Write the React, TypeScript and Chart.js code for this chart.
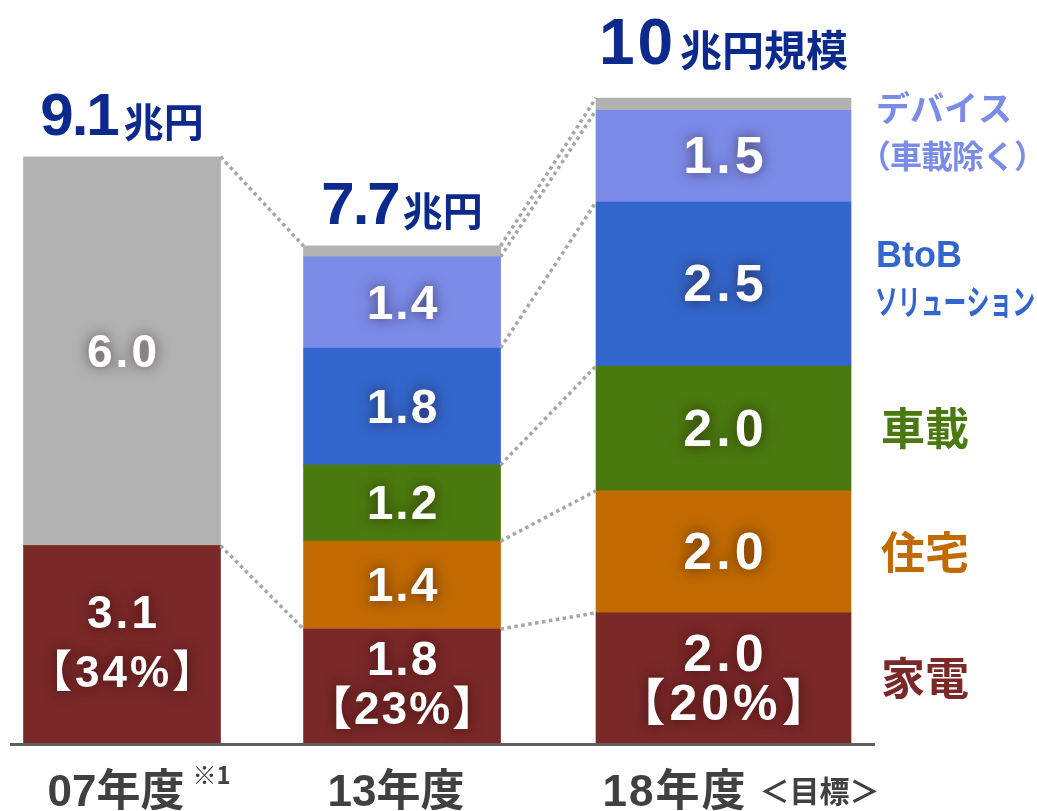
import React, { useEffect, useRef } from "react";
import { Chart, registerables } from "chart.js";

Chart.register(...registerables);

// ---- data ----
const categories = ["07年度", "13年度", "18年度"];
const categoryNotes = ["※1", "", "＜目標＞"];
const barX = [0, 1, 2.148];

const kaden = [3.07, 1.78, 2.03];
const jutaku = [0, 1.36, 1.89];
const shasai = [0, 1.18, 1.93];
const btob = [0, 1.81, 2.54];
const device = [0, 1.41, 1.42];
const other = [6.02, 0.17, 0.19];

const kadenLabels = ["3.1", "1.8", "2.0"];
const kadenShares = ["【34%】", "【23%】", "【20%】"];
const jutakuLabels = ["", "1.4", "2.0"];
const shasaiLabels = ["", "1.2", "2.0"];
const btobLabels = ["", "1.8", "2.5"];
const deviceLabels = ["", "1.4", "1.5"];
const otherLabels = ["6.0", "", ""];

const totalNumbers = ["9.1", "7.7", "10"];
const totalUnits = ["兆円", "兆円", "兆円規模"];

const seriesNames = [["家電"], ["住宅"], ["車載"], ["BtoB", "ソリューション"], ["デバイス", "（車載除く）"]];

// ---- style ----
const colors = ["#7B2828", "#C06A00", "#4A7A0F", "#3366CC", "#7B8BE8", "#B2B2B2"];
const NAVY = "#0B2A8C";
const AXIS_TEXT = "#404040";
const LATIN = '"Liberation Sans", "Noto Sans CJK JP", sans-serif';
const CJK = '"Noto Sans CJK JP", sans-serif';
const labelSizes = [46, 48, 52];
const labelSpacing = [3, 2, 4];

const series = [kaden, jutaku, shasai, btob, device, other];
const valueLabels = [kadenLabels, jutakuLabels, shasaiLabels, btobLabels, deviceLabels, otherLabels];

function getBar(chart: any, si: number, i: number) {
  const dsIndex = i < 2 ? si * 2 : si * 2 + 1;
  const idx = i < 2 ? i : 0;
  const el = chart.getDatasetMeta(dsIndex).data[idx];
  return el.getProps(["x", "y", "base", "width"], true);
}

const overlay = {
  id: "overlay",
  afterDatasetsDraw(chart: any) {
    const ctx: CanvasRenderingContext2D = chart.ctx;
    const area = chart.chartArea;
    const yScale = chart.scales.y;
    const y0 = yScale.getPixelForValue(0);

    // connectors
    ctx.save();
    ctx.strokeStyle = "#A6A6A6";
    ctx.lineWidth = 3.5;
    ctx.setLineDash([3.5, 3.5]);
    const seg = (x1: number, y1: number, x2: number, y2: number) => {
      ctx.beginPath();
      ctx.moveTo(x1, y1);
      ctx.lineTo(x2, y2);
      ctx.stroke();
    };
    const a0 = getBar(chart, 5, 0);
    const a1 = getBar(chart, 5, 1);
    seg(a0.x + a0.width / 2, a0.y, a1.x - a1.width / 2, a1.y);
    const k0 = getBar(chart, 0, 0);
    const k1 = getBar(chart, 0, 1);
    seg(k0.x + k0.width / 2, k0.y, k1.x - k1.width / 2, k1.y);
    for (let si = 0; si < series.length; si++) {
      const b1 = getBar(chart, si, 1);
      const b2 = getBar(chart, si, 2);
      seg(b1.x + b1.width / 2, b1.y, b2.x - b2.width / 2, b2.y);
    }
    ctx.restore();

    // baseline
    ctx.save();
    ctx.strokeStyle = "#5F5F5F";
    ctx.lineWidth = 3;
    ctx.beginPath();
    ctx.moveTo(area.left, y0 + 0.5);
    ctx.lineTo(area.right, y0 + 0.5);
    ctx.stroke();
    ctx.restore();

    // values inside bars
    ctx.save();
    ctx.fillStyle = "#FFFFFF";
    ctx.shadowColor = "rgba(30,0,0,0.6)";
    ctx.shadowBlur = 14;
    ctx.textAlign = "center";
    ctx.textBaseline = "middle";
    for (let si = 0; si < series.length; si++) {
      for (let i = 0; i < categories.length; i++) {
        const text = valueLabels[si][i];
        if (!text) continue;
        ctx.font = `bold ${labelSizes[i]}px ${LATIN}`;
        (ctx as any).letterSpacing = `${labelSpacing[i]}px`;
        const b = getBar(chart, si, i);
        const cy = (b.y + b.base) / 2;
        const cx = b.x + labelSpacing[i] / 2;
        if (si === 0) {
          const h = b.base - b.y;
          const g = h > 150 ? 58 : 48;
          const shift = h > 125 && h <= 150 ? 4 : 1;
          ctx.fillText(text, cx, cy - g / 2 + shift - 2);
          ctx.font = `bold ${labelSizes[i] - 2}px ${LATIN}`;
          ctx.fillText(kadenShares[i], cx, cy + g / 2 + shift);
        } else {
          ctx.fillText(text, cx, cy + 3);
        }
      }
    }
    ctx.restore();

    // totals above bars
    ctx.save();
    ctx.fillStyle = NAVY;
    ctx.textBaseline = "alphabetic";
    ctx.textAlign = "left";
    for (let i = 0; i < categories.length; i++) {
      const top = getBar(chart, 5, i);
      const big = i === 2;
      const numFont = `bold ${big ? 64 : 60}px ${LATIN}`;
      const numSpacing = big ? "3px" : "-2px";
      const unitFont = `bold ${big ? 42 : 40}px ${CJK}`;
      ctx.font = numFont;
      (ctx as any).letterSpacing = numSpacing;
      const wN = ctx.measureText(totalNumbers[i]).width;
      ctx.font = unitFont;
      (ctx as any).letterSpacing = "0px";
      const wU = ctx.measureText(totalUnits[i]).width;
      const gap = i === 0 ? 6 : 4;
      const start = top.x - (wN + gap + wU) / 2;
      const base = top.y - (big ? 34 : 22);
      ctx.font = numFont;
      (ctx as any).letterSpacing = numSpacing;
      ctx.fillText(totalNumbers[i], start, base);
      ctx.font = unitFont;
      (ctx as any).letterSpacing = "0px";
      ctx.fillText(totalUnits[i], start + wN + gap, base + 2);
    }
    ctx.restore();

    // series names at right
    ctx.save();
    ctx.textAlign = "left";
    ctx.textBaseline = "middle";
    const lx = area.right + 4;
    for (let si = 0; si < seriesNames.length; si++) {
      const b = getBar(chart, si, 2);
      const cy = (b.y + b.base) / 2;
      ctx.fillStyle = colors[si];
      const lines = seriesNames[si];
      if (lines.length === 1) {
        ctx.font = `bold 44px ${CJK}`;
        ctx.fillText(lines[0], lx + 2, cy);
      } else if (si === 3) {
        ctx.font = `bold 36px ${LATIN}`;
        ctx.fillText(lines[0], lx - 3, cy - 27);
        ctx.font = `bold 35px ${CJK}`;
        const w = ctx.measureText(lines[1]).width;
        const sx = 160 / w;
        ctx.save();
        ctx.translate(lx - 4, cy + 18);
        ctx.scale(sx, 1);
        ctx.fillText(lines[1], 0, 0);
        ctx.restore();
      } else {
        ctx.font = `bold 34px ${CJK}`;
        ctx.fillText(lines[0], lx - 3, cy - 48);
        ctx.font = `bold 32px ${CJK}`;
        (ctx as any).letterSpacing = "-1px";
        ctx.fillText(lines[1], lx - 20, cy);
        (ctx as any).letterSpacing = "0px";
      }
    }
    ctx.restore();

    // category labels below axis
    ctx.save();
    ctx.fillStyle = AXIS_TEXT;
    ctx.textBaseline = "alphabetic";
    ctx.textAlign = "left";
    const baseY = 806;
    for (let i = 0; i < categories.length; i++) {
      const b = getBar(chart, 0, i);
      ctx.font = `bold 44px ${LATIN}`;
      (ctx as any).letterSpacing = i === 2 ? "2px" : "0px";
      const wMain = ctx.measureText(categories[i]).width;
      if (i === 0) {
        const start = b.x - 6 - wMain / 2;
        ctx.fillText(categories[i], start, baseY);
        ctx.font = `bold 24px ${CJK}`;
        (ctx as any).letterSpacing = "0px";
        ctx.fillText(categoryNotes[i], start + wMain + 8, baseY - 22);
      } else if (i === 1) {
        ctx.fillText(categories[i], b.x - 6 - wMain / 2, baseY);
      } else {
        const start = b.x - 121;
        ctx.fillText(categories[i], start, baseY);
        ctx.font = `bold 30px ${CJK}`;
        (ctx as any).letterSpacing = "0px";
        ctx.fillText(categoryNotes[i], start + wMain + 12, baseY - 4);
      }
    }
    ctx.restore();
  },
};

export default function App() {
  const ref = useRef<HTMLCanvasElement>(null);
  useEffect(() => {
    document.body.style.margin = "0";
    const canvas = ref.current!;
    const datasets: any[] = [];
    series.forEach((s, si) => {
      const name = si < seriesNames.length ? seriesNames[si].join("") : "その他";
      datasets.push({
        label: name,
        data: [0, 1].map((i) => ({ x: barX[i], y: s[i] })),
        backgroundColor: colors[si],
        borderWidth: 0,
        barThickness: 197,
      });
      datasets.push({
        label: name,
        data: [{ x: barX[2], y: s[2] }],
        backgroundColor: colors[si],
        borderWidth: 0,
        barThickness: 255,
      });
    });
    const chart = new Chart(canvas, {
      type: "bar",
      data: { datasets },
      options: {
        responsive: false,
        animation: false,
        devicePixelRatio: 1,
        layout: { padding: { left: 10, right: 162, top: 0, bottom: 67 } },
        plugins: { legend: { display: false }, tooltip: { enabled: false } },
        scales: {
          x: {
            type: "linear",
            display: false,
            stacked: true,
            offset: false,
            bounds: "data",
            min: -0.4,
            max: 2.689,
          },
          y: {
            display: false,
            stacked: true,
            bounds: "data",
            min: 0,
            max: 11.517,
          },
        },
      } as any,
      plugins: [overlay],
    });
    return () => chart.destroy();
  }, []);
  return (
    <div style={{ position: "absolute", left: 0, top: 0, width: 1037, height: 811, background: "#fff" }}>
      <canvas ref={ref} width={1037} height={811} style={{ display: "block" }} />
    </div>
  );
}
